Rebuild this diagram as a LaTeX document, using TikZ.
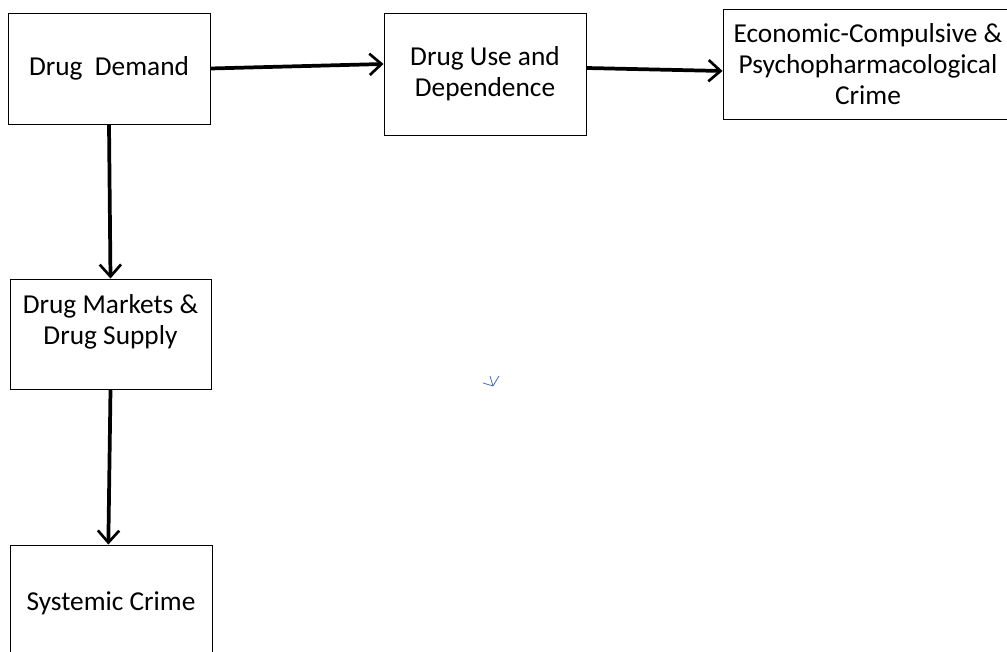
\documentclass[tikz,border=0pt]{standalone}
\usepackage{fontspec}
\setmainfont{Carlito}
\usetikzlibrary{arrows.meta}

\begin{document}
\begin{tikzpicture}[
            x = 0.75pt, y = -0.75pt, % pixel grid, y downwards
            > = {Straight Barb[length=9pt, width=16pt, line width=2pt]}, % open arrow head
            line width = 2.8pt
        ]

        \tikzstyle{every node}=[
            font = \fontsize{20.5}{23}\selectfont,
            align = center
        ]
        \tikzstyle{box}=[
            draw = black,
            line width = 0.7pt,
            fill = white,
            inner sep = 0pt
        ]

        \useasboundingbox (0,0) rectangle (1007,652);

        \node[box, minimum width=151.5pt, minimum height=83.25pt] (dd) at (109,68.5) {Drug~ Demand};

        \node[box, minimum width=151.5pt, minimum height=91.5pt] (du) at (485,74) {Drug Use and\\Dependence};

        \node[box, minimum width=217.5pt, minimum height=82.5pt] (ec) at (868,64) {Economic-Compulsive \&\\Psychopharmacological\\Crime};

        \node[box, minimum width=150.75pt, minimum height=82.5pt] (dm) at (110.5,334) {};
        \node (dmtext) at (110.5,322) {Drug Markets \&\\Drug Supply};

        \node[box, minimum width=151.5pt, minimum height=87.75pt] (sc) at (111,603.5) {Systemic Crime};

        \draw[->] (dd.east) -- ([yshift=7.5pt]du.west);
        \draw[->] ([yshift=4.5pt]du.east) -- ([yshift=-5.25pt]ec.west);
        \draw[->] (dd.south) -- (dm.north);
        \draw[->] (dm.south) -- ([xshift=-2pt]sc.north);

        % stray mark
        \coordinate (mk) at (493,386);
        \draw[line width=0.6pt, color={rgb,255:red,70;green,110;blue,190}]
            (483,383) -- (mk) (490,376) -- (mk) (499,376) -- (mk);
    \end{tikzpicture}
\end{document}
